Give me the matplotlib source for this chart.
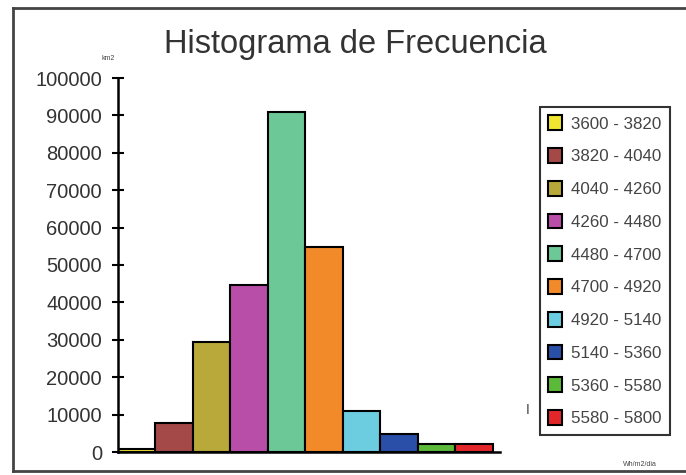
import matplotlib.pyplot as plt
from matplotlib.lines import Line2D

# histogram data
rangos = ['3600 - 3820', '3820 - 4040', '4040 - 4260', '4260 - 4480', '4480 - 4700',
          '4700 - 4920', '4920 - 5140', '5140 - 5360', '5360 - 5580', '5580 - 5800']
valores = [900, 7800, 29400, 44600, 90900, 54700, 10900, 4800, 2100, 2200]
colores = ['#f0e632', '#a54848', '#b9a83a', '#b94ea8', '#6cc897',
           '#f28a2a', '#6ccce0', '#2a4fa8', '#5cba3a', '#e3262a']
yticks = [0, 10000, 20000, 30000, 40000, 50000, 60000, 70000, 80000, 90000, 100000]

plt.rcParams['font.family'] = ['Liberation Sans', 'DejaVu Sans']

fig = plt.figure(figsize=(6.86, 4.75), dpi=100)
ax = fig.add_axes([118/686, 1-452/475, (500-118)/686, (452-78)/475])

bars = []
for i in range(len(valores)):
    b = ax.bar(i, valores[i], width=1, align='edge', color=colores[i],
               edgecolor='black', linewidth=1.5, label=rangos[i])
    bars.append(b)

ax.set_xlim(0, 10.2)
ax.set_ylim(0, 100000)
ax.set_yticks(yticks)
ax.set_yticklabels([str(t) for t in yticks], fontsize=14.5, color='#333333')
ax.tick_params(axis='y', direction='inout', length=9, width=1.5, pad=7)
ax.set_xticks([])
for s in ['top', 'right']:
    ax.spines[s].set_visible(False)
ax.spines['left'].set_linewidth(1.8)
ax.spines['bottom'].set_linewidth(1.8)
ax.patch.set_alpha(0)

fig.text(355/686, 1-45/475, 'Histograma de Frecuencia', fontsize=23.5,
         color='#333333', ha='center', va='center')
fig.text(108/686, 1-58/475, 'km2', fontsize=5, color='#444444', ha='center', va='center')
fig.text(640/686, 1-465/475, 'Wh/m2/dia', fontsize=5, color='#444444', ha='center', va='center')
fig.text(528/686, 1-410/475, 'I', fontsize=10, color='#444444', ha='center', va='center')

leg = fig.legend(loc='upper left', bbox_to_anchor=(540/686, 1-107/475), fontsize=12.2,
                 frameon=True, fancybox=False, edgecolor='black', borderpad=0.5,
                 labelspacing=0.98, handlelength=0.8, handleheight=0.95,
                 handletextpad=0.55, borderaxespad=0)
leg.get_frame().set_linewidth(1.5)
for t in leg.get_texts():
    t.set_color('#444444')

# outer frame
fig.add_artist(Line2D([13/686, 13/686], [1-471/475, 1-8/475], color='#444444', lw=2))
fig.add_artist(Line2D([13/686, 1], [1-8/475, 1-8/475], color='#444444', lw=2))
fig.add_artist(Line2D([13/686, 1], [1-471/475, 1-471/475], color='#444444', lw=2))

fig.savefig('out.png', dpi=100)
